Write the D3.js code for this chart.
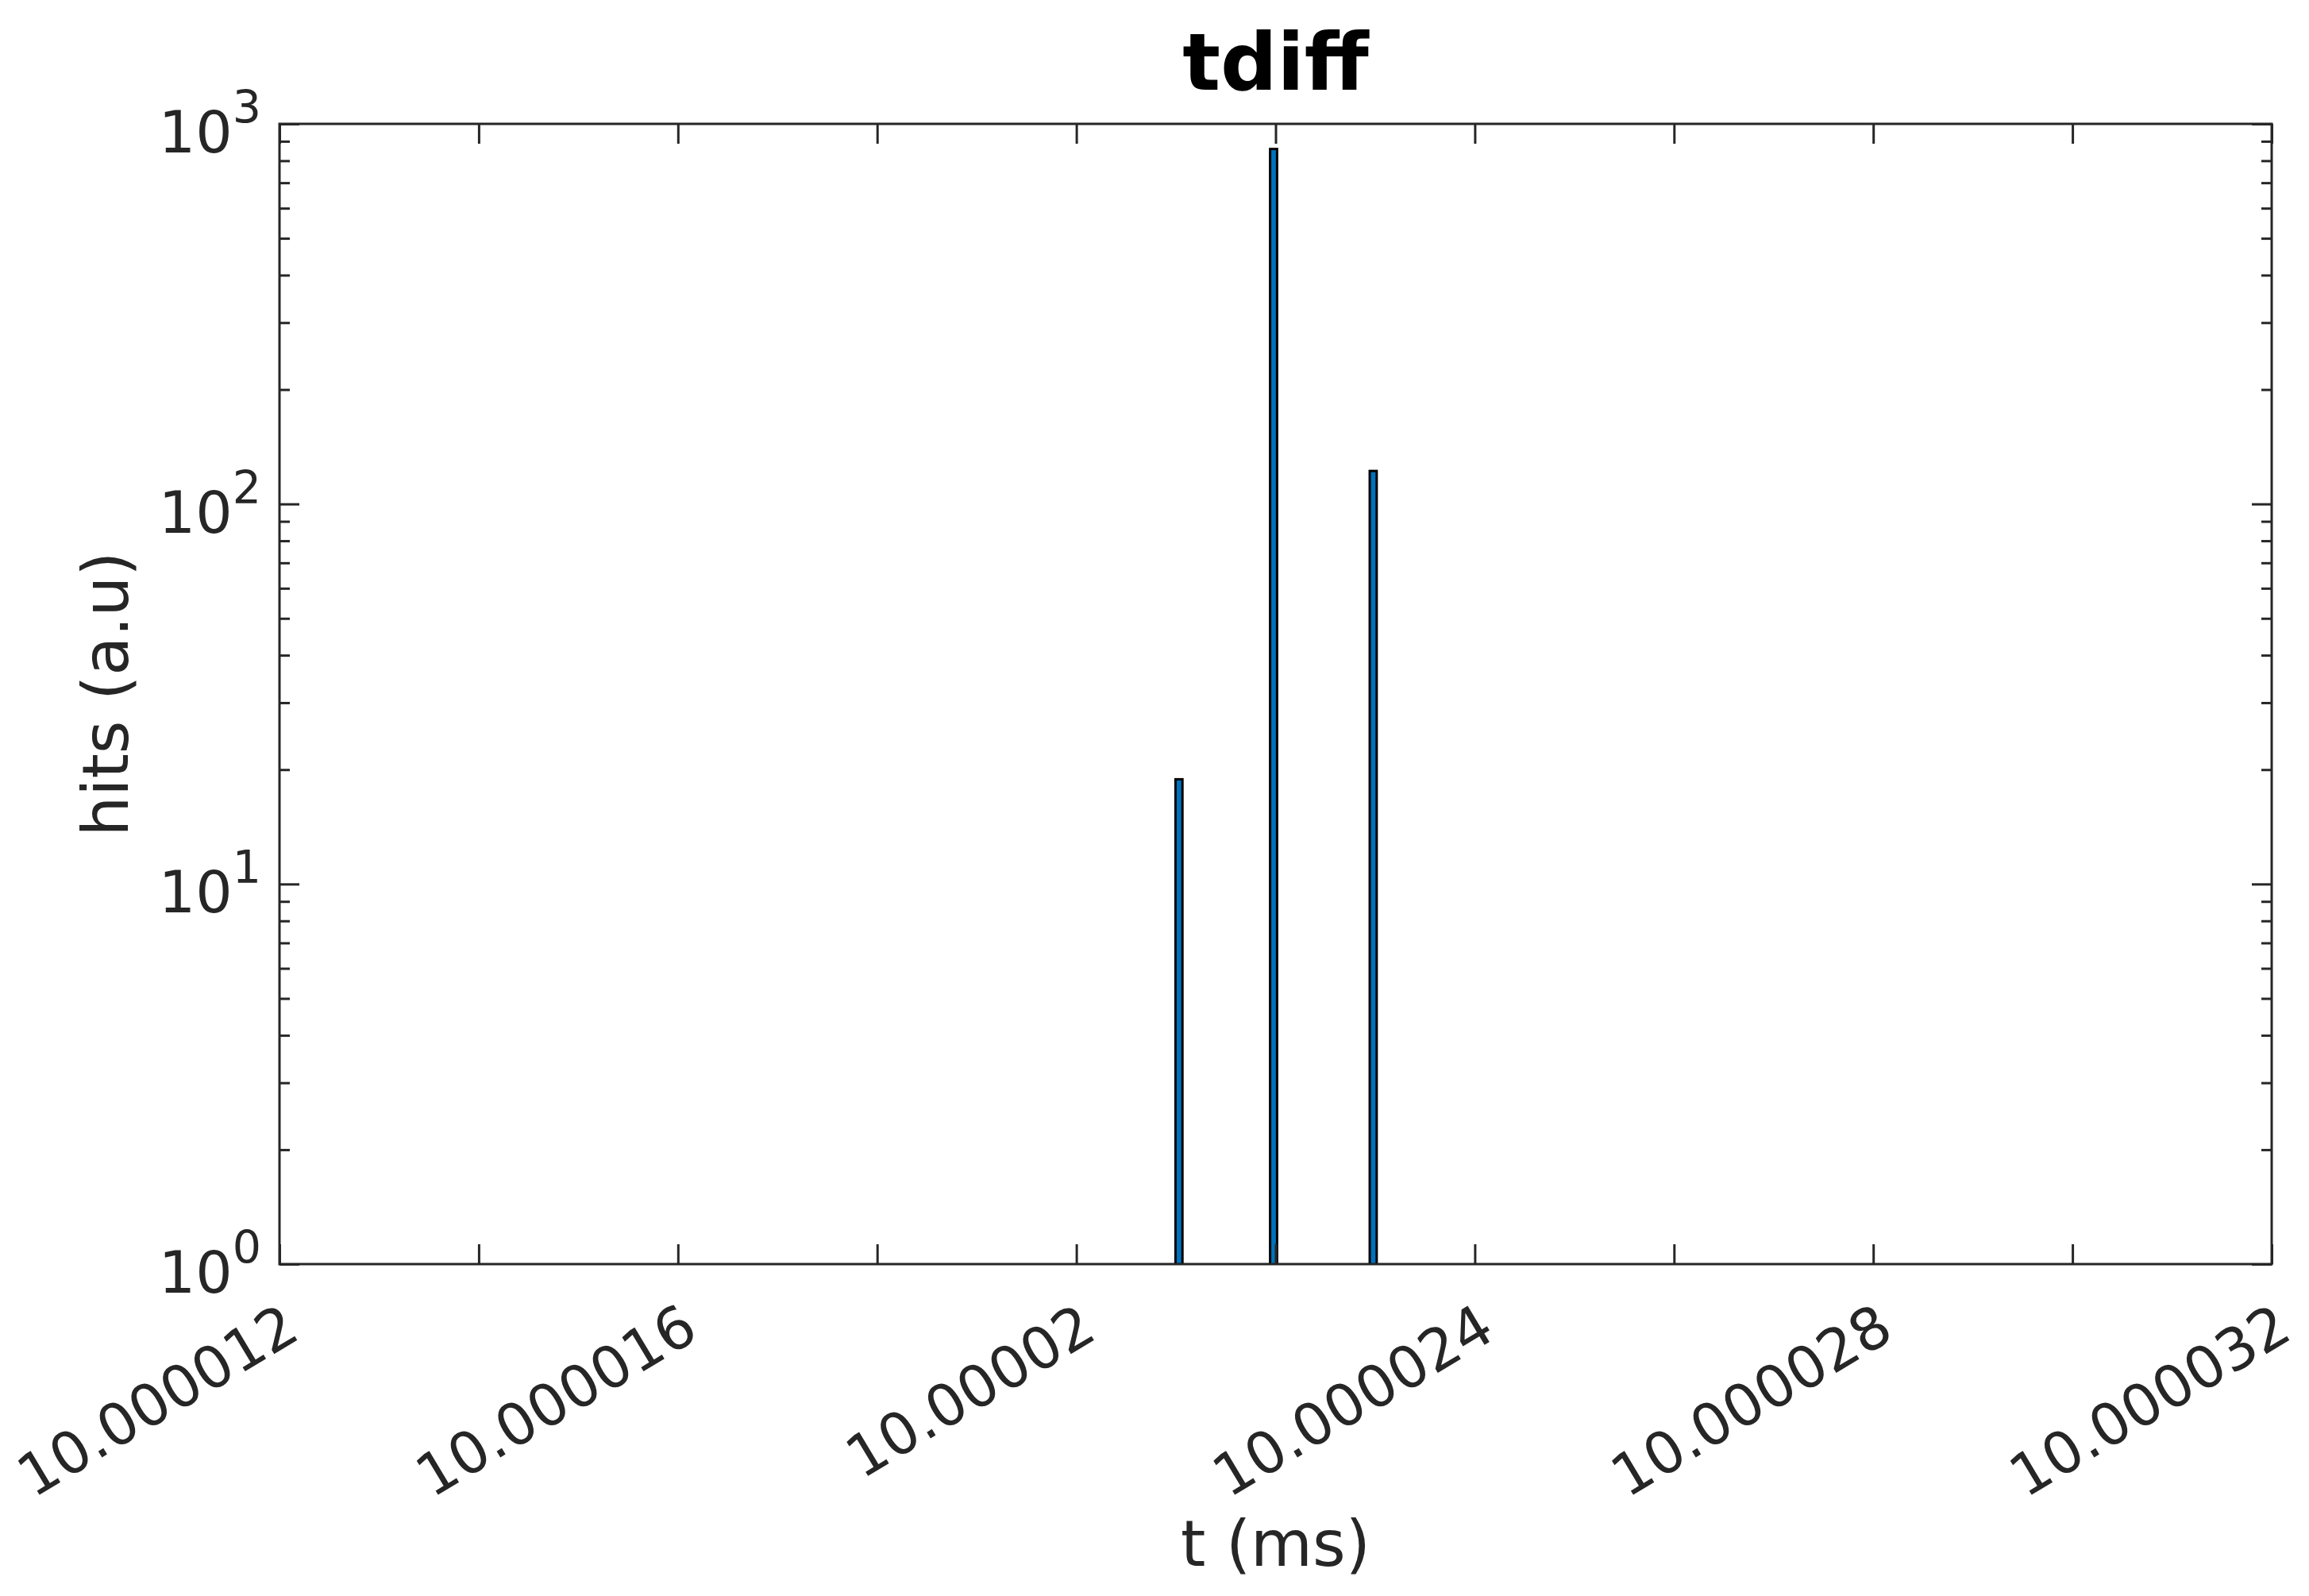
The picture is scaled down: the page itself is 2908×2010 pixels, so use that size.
<!DOCTYPE html>
<html><head><meta charset="utf-8">
<script src="https://cdn.jsdelivr.net/npm/d3@7"></script>
<style>body{margin:0;background:#fff}</style>
</head><body>
<svg id="c" width="2908" height="2010" xmlns="http://www.w3.org/2000/svg"></svg>
<script>
// ---- data ----
const binCenters = [10.00002103, 10.00002198, 10.00002298];
const hits = [19, 865, 123];
const xTickValues = [10.000012, 10.000014, 10.000016, 10.000018, 10.00002, 10.000022, 10.000024, 10.000026, 10.000028, 10.00003, 10.000032];
const xTickLabels = ["10.000012", "", "10.000016", "", "10.00002", "", "10.000024", "", "10.000028", "", "10.000032"];
const yTickValues = [1, 10, 100, 1000];
const yTickExponents = ["0", "1", "2", "3"];
const titleText = "tdiff";
const xLabelText = "t (ms)";
const yLabelText = "hits (a.u)";

// ---- layout ----
const W = 2908, H = 2010;
const L = 352, R = 2861, T = 156, B = 1592;
const barWidthData = 0.07e-6;
const font = "'DejaVu Sans', Verdana, sans-serif";
const axisColor = "#262626";

const svg = d3.select("#c");
svg.append("rect").attr("width", W).attr("height", H).attr("fill", "#fff");

const x = d3.scaleLinear().domain([xTickValues[0], xTickValues[xTickValues.length - 1]]).range([L, R]);
const y = d3.scaleLog().domain([1, 1000]).range([B, T]);

// minor y ticks
const yMinor = [];
for (let d = 1; d < 1000; d *= 10) for (let k = 2; k <= 9; k++) yMinor.push(d * k);

// bars
const defs = svg.append("defs");
defs.append("clipPath").attr("id", "clip").append("rect")
  .attr("x", L).attr("y", T).attr("width", R - L).attr("height", B - T);
svg.append("g").attr("clip-path", "url(#clip)")
  .selectAll("rect").data(binCenters.map((c, i) => ({c, v: hits[i]}))).join("rect")
  .attr("x", d => x(d.c - barWidthData / 2))
  .attr("width", d => x(d.c + barWidthData / 2) - x(d.c - barWidthData / 2))
  .attr("y", d => y(d.v) + 1.5)
  .attr("height", d => B - y(d.v) + 3)
  .attr("fill", "#0072BD").attr("stroke", "#000").attr("stroke-width", 3);

function styleAxis(g) {
  g.select(".domain").remove();
  g.selectAll(".tick line").attr("stroke", axisColor).attr("stroke-width", 3);
}

// x axes
const gx = svg.append("g").attr("transform", `translate(0,${B})`)
  .call(d3.axisBottom(x).tickValues(xTickValues).tickSize(-25)
    .tickFormat((d, i) => xTickLabels[i]));
styleAxis(gx);
gx.selectAll(".tick text")
  .attr("fill", axisColor).attr("font-family", font).attr("font-size", 73)
  .attr("text-anchor", "end").attr("x", 28).attr("y", 92).attr("dy", 0)
  .attr("transform", "rotate(-31,28,92)");

const gxt = svg.append("g").attr("transform", `translate(0,${T})`)
  .call(d3.axisTop(x).tickValues(xTickValues).tickSize(-25).tickFormat(""));
styleAxis(gxt);

// y axes
const gy = svg.append("g").attr("transform", `translate(${L},0)`)
  .call(d3.axisLeft(y).tickValues(yTickValues).tickSize(-25).tickFormat(""));
styleAxis(gy);
const gym = svg.append("g").attr("transform", `translate(${L},0)`)
  .call(d3.axisLeft(y).tickValues(yMinor).tickSize(-13).tickFormat(""));
styleAxis(gym);
const gyr = svg.append("g").attr("transform", `translate(${R},0)`)
  .call(d3.axisRight(y).tickValues(yTickValues).tickSize(-25).tickFormat(""));
styleAxis(gyr);
const gyrm = svg.append("g").attr("transform", `translate(${R},0)`)
  .call(d3.axisRight(y).tickValues(yMinor).tickSize(-13).tickFormat(""));
styleAxis(gyrm);

// y tick labels 10^n
const yl = svg.append("g").selectAll("text").data(yTickValues).join("text")
  .attr("x", L - 23).attr("y", d => y(d) + 36)
  .attr("text-anchor", "end").attr("fill", axisColor)
  .attr("font-family", font).attr("font-size", 73);
yl.append("tspan").text("10");
yl.append("tspan").attr("dy", -37).attr("font-size", 57).text((d, i) => yTickExponents[i]);

// box
svg.append("rect").attr("x", L).attr("y", T).attr("width", R - L).attr("height", B - T)
  .attr("fill", "none").attr("stroke", axisColor).attr("stroke-width", 3);

// labels
svg.append("text").attr("x", (L + R) / 2).attr("y", 113).attr("text-anchor", "middle")
  .attr("font-family", font).attr("font-weight", "bold").attr("font-size", 100)
  .attr("fill", "#000").text(titleText);
svg.append("text").attr("x", (L + R) / 2).attr("y", 1972).attr("text-anchor", "middle")
  .attr("font-family", font).attr("font-size", 80).attr("fill", axisColor).text(xLabelText);
svg.append("text").attr("transform", `translate(161,${(T + B) / 2}) rotate(-90)`)
  .attr("text-anchor", "middle")
  .attr("font-family", font).attr("font-size", 80).attr("fill", axisColor).text(yLabelText);
</script>
</body></html>
